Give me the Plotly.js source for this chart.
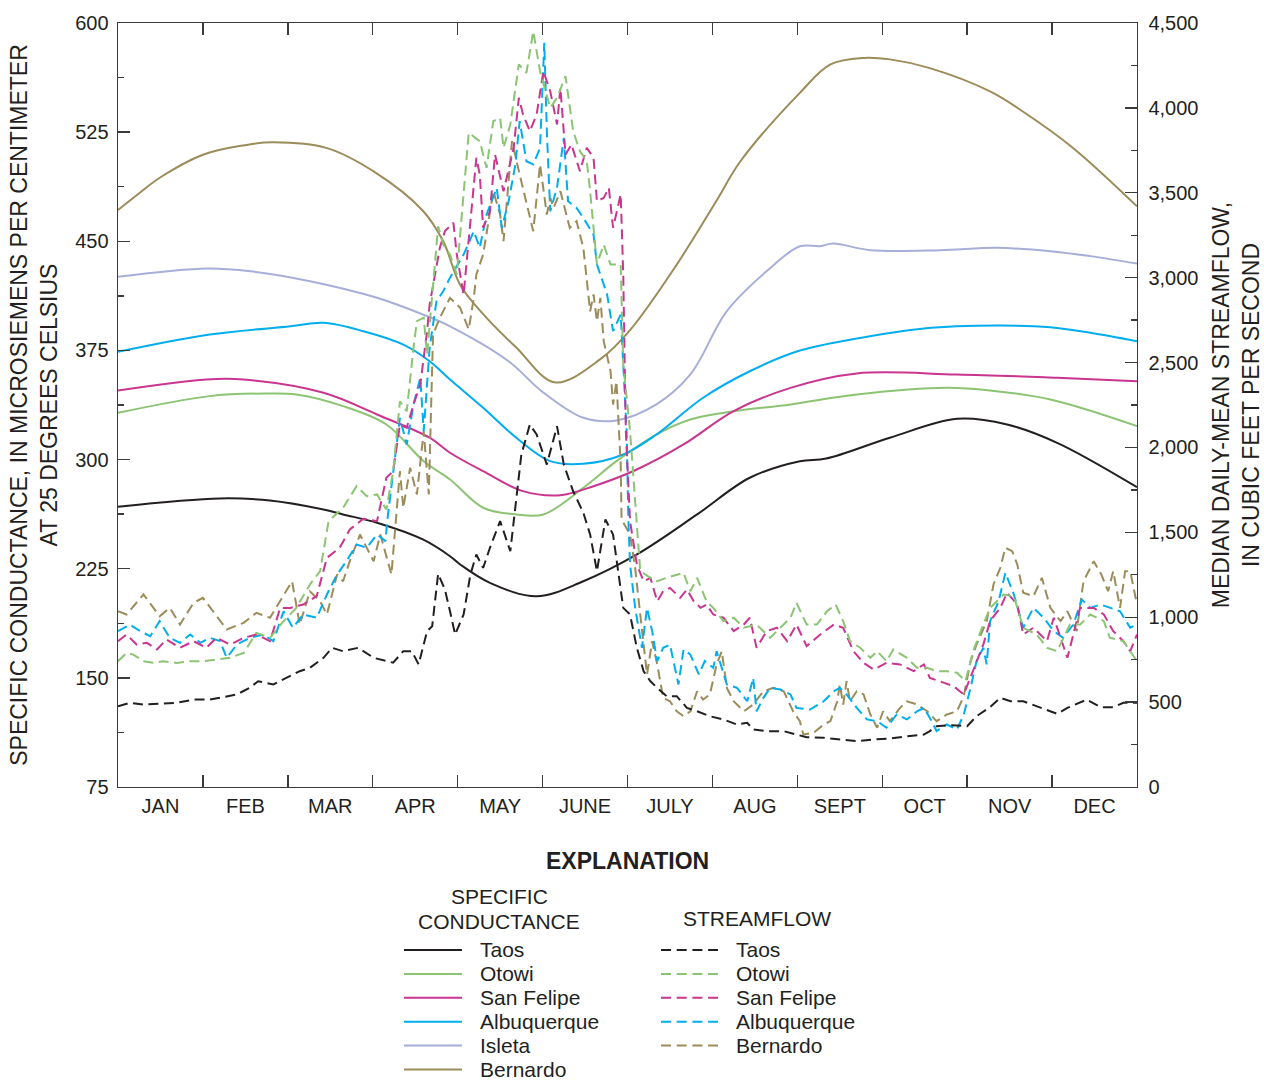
<!DOCTYPE html>
<html>
<head>
<meta charset="utf-8">
<script src="https://cdn.plot.ly/plotly-3.0.1.min.js"></script>
<style>
  html, body { margin: 0; padding: 0; background: #ffffff; }
  #chart { width: 1264px; height: 1081px; }
</style>
</head>
<body>
<div id="chart"></div>
<script>
// ---- Month labels (x axis runs 0..12, one unit per month) ----
const MONTH_LABELS = ['JAN', 'FEB', 'MAR', 'APR', 'MAY', 'JUNE', 'JULY', 'AUG', 'SEPT', 'OCT', 'NOV', 'DEC'];

// ---- Median specific conductance, microsiemens per centimeter (left axis) ----
const taosCondMonth = [0, 1.2, 1.79, 2.42, 2.65, 3.05, 3.59, 3.91, 4.03, 4.38, 4.93, 5.48, 6.11, 6.82, 7.44, 8.03, 8.34, 9.09, 9.88, 10.47, 11.06, 12];
const taosCond = [267.6, 273.3, 271.9, 265.7, 262.3, 256.6, 245.1, 233.6, 227.9, 215.3, 206.1, 216.4, 234.8, 262.3, 287.5, 298.9, 300.7, 315, 328, 324.1, 311.5, 281];

const otowiCondMonth = [0, 1.08, 1.75, 2.10, 2.65, 3.16, 3.60, 3.91, 4.30, 4.69, 5.01, 5.48, 5.87, 6.34, 6.74, 7.25, 7.92, 8.70, 9.76, 10.27, 10.98, 12];
const otowiCond = [332.1, 343.6, 345.4, 344.7, 336.7, 324.1, 298.9, 286.3, 266.9, 262.3, 262.3, 280.6, 298.9, 317.2, 327.5, 333.2, 337.9, 344.7, 349.3, 347.5, 341.3, 323];

const sanFelipeCondMonth = [0, 1.04, 1.48, 2.42, 3.05, 3.67, 3.91, 4.30, 4.77, 5.21, 5.60, 6.11, 6.66, 7.25, 7.92, 8.70, 9.88, 11.06, 12];
const sanFelipeCond = [347.5, 355, 355, 345.9, 331, 315, 304.7, 292, 278.3, 275.5, 281.7, 293.2, 310.4, 333.3, 349.3, 359.2, 358.5, 356.2, 353.9];

const albuquerqueCondMonth = [0, 1.08, 2.03, 2.42, 2.89, 3.36, 3.67, 3.91, 4.30, 4.69, 5.09, 5.48, 5.95, 6.34, 6.89, 7.44, 8.03, 8.70, 9.49, 10.35, 10.98, 11.45, 12];
const albuquerqueCond = [374, 385.9, 391.6, 394, 388.2, 379, 367.6, 355, 335.6, 315, 298.9, 297.1, 303.5, 317.2, 342.5, 360.7, 374.9, 383.2, 390.1, 392.1, 390.9, 387.1, 381.3];

const isletaCondMonth = [0, 1.05, 1.56, 2.26, 3.05, 3.59, 3.91, 4.60, 4.99, 5.48, 5.87, 6.34, 6.74, 7.17, 7.64, 8.03, 8.27, 8.42, 8.86, 9.68, 10.35, 10.98, 11.45, 12];
const isletaCond = [425.6, 431.3, 429.4, 422.6, 411.2, 399.7, 391.6, 367.6, 347, 328.7, 326.9, 337.9, 358.5, 402, 429.5, 446.6, 446.6, 448.5, 443.9, 443.9, 445.5, 443.2, 439.8, 434.7];

const bernardoCondMonth = [0, 0.25, 0.50, 1.00, 1.49, 1.83, 2.46, 3.01, 3.59, 3.83, 4.03, 4.30, 4.69, 5.15, 5.68, 6.03, 6.58, 7.05, 7.33, 8.03, 8.39, 8.78, 9.09, 9.56, 10.27, 10.66, 11.25, 12];
const bernardoCond = [471.5, 483, 494, 509.5, 516, 518, 514, 498, 471, 450, 420, 400, 377, 353, 369, 389, 434, 478, 505, 552, 571.5, 576, 575, 569, 553, 539, 514, 474];

// ---- Median daily-mean streamflow, cubic feet per second (right axis) ----
const taosFlowMonth = [0, 0.14, 0.30, 0.49, 0.69, 0.89, 1.08, 1.24, 1.40, 1.55, 1.65, 1.83, 2.03, 2.14, 2.26, 2.42, 2.52, 2.65, 2.83, 3.01, 3.24, 3.36, 3.46, 3.54, 3.64, 3.70, 3.77, 3.85, 3.91, 3.97, 4.07, 4.15, 4.22, 4.30, 4.38, 4.50, 4.62, 4.68, 4.75, 4.85, 4.93, 5.05, 5.17, 5.25, 5.36, 5.48, 5.56, 5.64, 5.74, 5.83, 5.95, 6.03, 6.11, 6.19, 6.27, 6.35, 6.46, 6.58, 6.70, 6.82, 6.97, 7.13, 7.29, 7.41, 7.48, 7.64, 7.84, 7.99, 8.11, 8.31, 8.50, 8.70, 8.90, 9.09, 9.29, 9.49, 9.56, 9.64, 9.80, 10.00, 10.11, 10.27, 10.39, 10.51, 10.66, 10.86, 11.06, 11.18, 11.33, 11.41, 11.57, 11.72, 11.84, 12.00];
const taosFlow = [476, 496, 486, 490, 496, 515, 515, 529, 545, 584, 623, 604, 653, 682, 702, 761, 820, 800, 820, 761, 732, 800, 800, 722, 918, 947, 1256, 1163, 1035, 898, 1016, 1252, 1369, 1291, 1409, 1566, 1389, 1650, 1958, 2135, 2076, 1899, 2125, 1899, 1742, 1615, 1487, 1271, 1576, 1487, 1055, 1016, 820, 682, 623, 584, 535, 535, 466, 446, 417, 398, 368, 378, 339, 329, 329, 309, 293, 290, 280, 270, 280, 286, 299, 309, 329, 358, 364, 358, 417, 470, 525, 505, 505, 470, 431, 466, 496, 515, 470, 470, 496, 496];

const otowiFlowMonth = [0, 0.10, 0.18, 0.30, 0.42, 0.53, 0.69, 0.85, 1.00, 1.16, 1.32, 1.48, 1.63, 1.79, 1.95, 2.10, 2.26, 2.38, 2.48, 2.65, 2.81, 2.93, 3.05, 3.16, 3.24, 3.32, 3.40, 3.48, 3.52, 3.60, 3.64, 3.77, 3.83, 3.91, 3.99, 4.13, 4.26, 4.30, 4.34, 4.42, 4.50, 4.54, 4.62, 4.72, 4.81, 4.89, 4.97, 5.09, 5.17, 5.27, 5.36, 5.44, 5.52, 5.56, 5.64, 5.72, 5.80, 5.92, 5.95, 6.03, 6.11, 6.15, 6.27, 6.35, 6.46, 6.58, 6.66, 6.74, 6.82, 6.93, 7.01, 7.13, 7.25, 7.37, 7.52, 7.68, 7.84, 7.92, 7.99, 8.11, 8.23, 8.35, 8.45, 8.54, 8.62, 8.74, 8.86, 8.94, 9.05, 9.13, 9.29, 9.41, 9.53, 9.64, 9.76, 9.88, 9.98, 10.07, 10.19, 10.27, 10.43, 10.55, 10.66, 10.82, 10.94, 11.06, 11.21, 11.33, 11.45, 11.61, 11.68, 11.84, 12.00];
const otowiFlow = [741, 790, 780, 741, 731, 741, 731, 741, 741, 751, 761, 790, 908, 879, 977, 1055, 1193, 1271, 1566, 1644, 1772, 1713, 1723, 1634, 1860, 2272, 2213, 2587, 2744, 2764, 2547, 3303, 3195, 3136, 3019, 3853, 3804, 3725, 3647, 3922, 3941, 3765, 3902, 4256, 4207, 4452, 4216, 4001, 4059, 4187, 3863, 3745, 3686, 3509, 3078, 3195, 3078, 3078, 2489, 2096, 1546, 1271, 1232, 1212, 1232, 1252, 1262, 1153, 1232, 1094, 1055, 977, 997, 938, 957, 879, 957, 997, 1085, 957, 957, 1035, 1075, 977, 859, 820, 761, 800, 741, 810, 761, 702, 702, 682, 682, 673, 623, 800, 957, 1055, 1134, 1124, 938, 898, 820, 800, 957, 957, 1016, 977, 879, 859, 741];

const sanFelipeFlowMonth = [0, 0.10, 0.22, 0.34, 0.46, 0.57, 0.73, 0.89, 1.04, 1.16, 1.32, 1.48, 1.63, 1.79, 1.91, 2.03, 2.18, 2.34, 2.46, 2.61, 2.73, 2.89, 3.05, 3.16, 3.24, 3.32, 3.40, 3.48, 3.56, 3.64, 3.67, 3.71, 3.79, 3.85, 3.95, 3.99, 4.07, 4.22, 4.26, 4.30, 4.38, 4.44, 4.54, 4.66, 4.72, 4.77, 4.85, 4.93, 5.01, 5.09, 5.17, 5.21, 5.27, 5.34, 5.44, 5.52, 5.60, 5.64, 5.72, 5.78, 5.83, 5.92, 5.95, 5.98, 6.03, 6.11, 6.19, 6.27, 6.35, 6.42, 6.50, 6.62, 6.70, 6.78, 6.86, 6.93, 7.01, 7.13, 7.25, 7.37, 7.44, 7.52, 7.64, 7.76, 7.88, 7.99, 8.11, 8.27, 8.43, 8.54, 8.66, 8.78, 8.90, 9.05, 9.21, 9.37, 9.49, 9.56, 9.68, 9.84, 9.96, 10.07, 10.19, 10.27, 10.39, 10.47, 10.59, 10.66, 10.78, 10.94, 11.02, 11.18, 11.33, 11.49, 11.61, 11.72, 11.84, 11.92, 12.00];
const sanFelipeFlow = [859, 898, 839, 849, 810, 869, 820, 859, 820, 879, 839, 879, 898, 859, 1055, 1055, 1075, 1124, 1350, 1409, 1517, 1580, 1566, 1821, 1860, 2135, 2116, 2253, 2371, 2685, 2842, 2960, 3176, 3274, 3323, 3136, 2900, 3706, 3608, 3294, 3391, 3725, 3509, 3765, 4059, 3961, 3863, 3961, 4216, 4098, 3902, 4118, 3725, 3784, 3627, 3765, 3706, 3450, 3470, 3529, 3294, 3490, 3019, 2100, 1566, 1311, 1212, 1232, 1094, 1153, 1173, 1114, 1163, 1094, 1055, 1075, 1016, 997, 918, 957, 997, 820, 918, 938, 859, 957, 829, 898, 957, 938, 800, 731, 692, 731, 722, 682, 722, 643, 623, 594, 545, 682, 839, 977, 1055, 1144, 1075, 898, 938, 859, 997, 761, 1055, 1055, 1016, 918, 859, 800, 898];

const albuquerqueFlowMonth = [0, 0.14, 0.26, 0.38, 0.49, 0.61, 0.73, 0.85, 0.97, 1.08, 1.20, 1.28, 1.40, 1.55, 1.71, 1.83, 1.95, 2.06, 2.18, 2.34, 2.46, 2.58, 2.69, 2.81, 2.93, 3.05, 3.15, 3.17, 3.32, 3.40, 3.48, 3.56, 3.60, 3.67, 3.75, 3.83, 3.91, 4.07, 4.19, 4.26, 4.34, 4.46, 4.52, 4.60, 4.68, 4.73, 4.81, 4.89, 4.97, 5.02, 5.05, 5.09, 5.17, 5.25, 5.30, 5.40, 5.48, 5.60, 5.64, 5.76, 5.83, 5.92, 5.95, 5.99, 6.01, 6.03, 6.09, 6.17, 6.23, 6.29, 6.35, 6.42, 6.50, 6.60, 6.66, 6.74, 6.84, 6.91, 7.01, 7.05, 7.17, 7.29, 7.41, 7.48, 7.52, 7.60, 7.68, 7.80, 7.92, 7.99, 8.15, 8.31, 8.43, 8.50, 8.58, 8.70, 8.82, 8.94, 9.05, 9.17, 9.29, 9.41, 9.49, 9.56, 9.64, 9.76, 9.88, 9.96, 10.04, 10.11, 10.19, 10.23, 10.27, 10.37, 10.45, 10.55, 10.66, 10.78, 10.90, 11.02, 11.13, 11.25, 11.35, 11.45, 11.57, 11.68, 11.80, 11.92, 12.00];
const albuquerqueFlow = [918, 957, 918, 888, 977, 879, 849, 898, 849, 879, 859, 761, 839, 879, 898, 859, 1035, 938, 1016, 997, 1134, 1252, 1330, 1428, 1409, 1487, 1448, 1566, 2174, 2017, 2253, 2410, 2096, 2587, 2861, 2920, 3000, 3136, 3274, 3176, 3372, 3529, 3294, 3450, 3667, 3922, 3686, 3667, 3765, 4383, 3863, 3391, 3529, 3824, 3450, 3411, 3352, 3254, 3078, 2901, 2685, 2783, 2489, 2096, 1575, 1311, 1055, 820, 1055, 918, 741, 820, 839, 604, 810, 780, 663, 741, 702, 800, 604, 584, 505, 643, 446, 525, 584, 574, 545, 466, 456, 505, 564, 584, 545, 466, 398, 388, 349, 427, 398, 446, 466, 408, 329, 368, 339, 427, 584, 741, 820, 722, 977, 1094, 1262, 1134, 938, 1055, 997, 918, 879, 957, 1104, 1055, 1075, 1055, 1035, 938, 957];

const bernardoFlowMonth = [0, 0.10, 0.30, 0.42, 0.49, 0.61, 0.73, 0.89, 1.00, 1.12, 1.28, 1.48, 1.63, 1.79, 1.95, 2.05, 2.14, 2.26, 2.38, 2.46, 2.58, 2.65, 2.73, 2.85, 3.01, 3.09, 3.22, 3.32, 3.36, 3.44, 3.52, 3.60, 3.66, 3.71, 3.79, 3.91, 3.99, 4.03, 4.13, 4.19, 4.22, 4.30, 4.42, 4.50, 4.54, 4.64, 4.73, 4.81, 4.89, 4.97, 5.05, 5.09, 5.13, 5.21, 5.32, 5.40, 5.48, 5.56, 5.60, 5.64, 5.68, 5.72, 5.80, 5.83, 5.87, 5.92, 5.93, 6.03, 6.09, 6.15, 6.19, 6.23, 6.29, 6.35, 6.42, 6.50, 6.58, 6.66, 6.74, 6.82, 6.89, 6.97, 7.05, 7.11, 7.17, 7.25, 7.37, 7.48, 7.60, 7.72, 7.84, 7.95, 8.03, 8.07, 8.19, 8.31, 8.39, 8.47, 8.50, 8.54, 8.58, 8.62, 8.70, 8.78, 8.86, 8.94, 9.01, 9.09, 9.21, 9.29, 9.41, 9.53, 9.64, 9.76, 9.88, 9.96, 10.04, 10.11, 10.23, 10.31, 10.39, 10.45, 10.53, 10.59, 10.66, 10.78, 10.88, 10.98, 11.10, 11.18, 11.29, 11.37, 11.49, 11.58, 11.66, 11.72, 11.80, 11.86, 11.92, 12.00];
const bernardoFlow = [1035, 1016, 1134, 1055, 1006, 1055, 957, 1085, 1114, 1035, 928, 967, 1026, 997, 1134, 1212, 957, 1153, 1094, 1016, 1252, 1212, 1330, 1487, 1330, 1487, 1252, 1860, 1644, 1880, 1723, 2096, 1723, 2665, 2764, 2881, 2842, 2822, 2695, 2881, 3019, 3136, 3509, 3372, 3215, 3804, 3608, 3450, 3274, 3667, 3372, 3470, 3411, 3509, 3294, 3333, 3176, 2802, 2901, 2744, 2881, 2626, 2449, 2253, 2390, 1899, 1575, 1487, 1291, 1016, 820, 663, 859, 722, 525, 505, 446, 417, 446, 564, 515, 545, 722, 800, 584, 505, 446, 486, 564, 584, 564, 446, 388, 309, 319, 368, 388, 505, 604, 486, 623, 505, 564, 545, 427, 349, 446, 388, 466, 505, 486, 446, 388, 427, 446, 535, 741, 839, 977, 1193, 1291, 1409, 1389, 1311, 1144, 1124, 1232, 1055, 977, 1035, 918, 1212, 1330, 1252, 1153, 1271, 1055, 1271, 1271, 1075];

// ---- Station styling ----
const STATION_COLORS = {
  'Taos': '#231f20',
  'Otowi': '#8cc474',
  'San Felipe': '#c9358f',
  'Albuquerque': '#00aeef',
  'Isleta': '#a7aed8',
  'Bernardo': '#9b8c5a'
};
const INK = '#231f20';
const AXIS_COLOR = '#3b3b3b';
const FONT = '"Liberation Sans", Arial, Helvetica, sans-serif';
const DASH = '10px,5.5px';

const conductanceSeries = [
  ['Taos', taosCondMonth, taosCond],
  ['Otowi', otowiCondMonth, otowiCond],
  ['San Felipe', sanFelipeCondMonth, sanFelipeCond],
  ['Albuquerque', albuquerqueCondMonth, albuquerqueCond],
  ['Isleta', isletaCondMonth, isletaCond],
  ['Bernardo', bernardoCondMonth, bernardoCond]
];
const streamflowSeries = [
  ['Taos', taosFlowMonth, taosFlow],
  ['Otowi', otowiFlowMonth, otowiFlow],
  ['San Felipe', sanFelipeFlowMonth, sanFelipeFlow],
  ['Albuquerque', albuquerqueFlowMonth, albuquerqueFlow],
  ['Bernardo', bernardoFlowMonth, bernardoFlow]
];

const traces = [];
conductanceSeries.forEach(([name, months, values]) => {
  traces.push({
    type: 'scatter', mode: 'lines', name: name + ' specific conductance',
    x: months, y: values, yaxis: 'y',
    line: { color: STATION_COLORS[name], width: 2, shape: 'spline', smoothing: 1 },
    hoverinfo: 'skip'
  });
});
// Streamflow drawn in reverse so Taos ends up on top of the others
streamflowSeries.slice().reverse().forEach(([name, months, values]) => {
  traces.push({
    type: 'scatter', mode: 'lines', name: name + ' streamflow',
    x: months, y: values, yaxis: 'y2',
    line: { color: STATION_COLORS[name], width: 2, dash: DASH },
    hoverinfo: 'skip'
  });
});

// ---- Plot frame in pixels; helpers place the explanation block below it ----
const FRAME = { left: 118, right: 1137, top: 23, bottom: 787 };
const toPaperX = px => (px - FRAME.left) / (FRAME.right - FRAME.left);
const toPaperY = py => (FRAME.bottom - py) / (FRAME.bottom - FRAME.top);

const shapes = [];
const annotations = [];
function label(text, x, y, opts) {
  annotations.push(Object.assign({
    xref: 'paper', yref: 'paper', x: toPaperX(x), y: toPaperY(y),
    text: text, showarrow: false, xanchor: 'center', yanchor: 'middle',
    borderpad: 0,
    font: { family: FONT, size: 21, color: INK }
  }, opts || {}));
}
function sample(x0, x1, y, color, dash) {
  shapes.push({
    type: 'line', xref: 'paper', yref: 'paper',
    x0: toPaperX(x0), x1: toPaperX(x1), y0: toPaperY(y), y1: toPaperY(y),
    line: { color: color, width: 2, dash: dash || 'solid' }
  });
}

label('<b>EXPLANATION</b>', 627, 861, { font: { family: FONT, size: 23, color: INK } });
label('SPECIFIC', 499, 896);
label('CONDUCTANCE', 499, 921);
label('STREAMFLOW', 757, 919);

const ROW0 = 950, ROW_STEP = 23.9;
conductanceSeries.forEach(([name], i) => {
  const y = ROW0 + i * ROW_STEP;
  sample(404, 462, y, STATION_COLORS[name]);
  label(name, 479, y, { xanchor: 'left' });
});
streamflowSeries.forEach(([name], i) => {
  const y = ROW0 + i * ROW_STEP;
  sample(661, 718, y, STATION_COLORS[name], '10px,5.7px');
  label(name, 735, y, { xanchor: 'left' });
});

const tickFont = { family: FONT, size: 20, color: INK };
const titleFont = { family: FONT, size: 23, color: INK };

const layout = {
  width: 1264, height: 1081,
  margin: { l: FRAME.left, r: 1264 - FRAME.right, t: FRAME.top, b: 1081 - FRAME.bottom, pad: 0 },
  paper_bgcolor: '#ffffff', plot_bgcolor: '#ffffff',
  font: { family: FONT, color: INK },
  showlegend: false,
  xaxis: {
    range: [0, 12], fixedrange: true,
    tickmode: 'array', tickvals: MONTH_LABELS.map((_, i) => i + 0.5), ticktext: MONTH_LABELS,
    ticks: '', tickfont: tickFont, ticklabelstandoff: 1,
    minor: { tickmode: 'array', tickvals: MONTH_LABELS.map((_, i) => i).slice(1),
             ticks: 'inside', ticklen: 12, tickwidth: 1.4, tickcolor: AXIS_COLOR, showgrid: false },
    showline: true, linecolor: AXIS_COLOR, linewidth: 1.4, mirror: 'ticks',
    showgrid: false, zeroline: false
  },
  yaxis: {
    range: [75, 600], fixedrange: true,
    tickmode: 'linear', tick0: 75, dtick: 75,
    ticks: 'inside', ticklen: 12, tickwidth: 1.4, tickcolor: AXIS_COLOR,
    minor: { tick0: 75, dtick: 37.5, ticks: 'inside', ticklen: 6, tickwidth: 1.4, tickcolor: AXIS_COLOR, showgrid: false },
    tickfont: tickFont, ticklabelstandoff: 4,
    showline: true, linecolor: AXIS_COLOR, linewidth: 1.4,
    showgrid: false, zeroline: false,
    title: { text: 'SPECIFIC CONDUCTANCE, IN MICROSIEMENS PER CENTIMETER<br>AT 25 DEGREES CELSIUS', font: titleFont, standoff: 11 }
  },
  yaxis2: {
    overlaying: 'y', side: 'right', anchor: 'x',
    range: [0, 4500], fixedrange: true,
    tickmode: 'linear', tick0: 0, dtick: 500, tickformat: ',d',
    ticks: 'inside', ticklen: 12, tickwidth: 1.4, tickcolor: AXIS_COLOR,
    minor: { tick0: 0, dtick: 250, ticks: 'inside', ticklen: 6, tickwidth: 1.4, tickcolor: AXIS_COLOR, showgrid: false },
    tickfont: tickFont, ticklabelstandoff: 6,
    showline: true, linecolor: AXIS_COLOR, linewidth: 1.4,
    showgrid: false, zeroline: false,
    title: { text: 'MEDIAN DAILY-MEAN STREAMFLOW,<br>IN CUBIC FEET PER SECOND', font: titleFont, standoff: 19 }
  },
  shapes: shapes,
  annotations: annotations
};

Plotly.newPlot('chart', traces, layout, { staticPlot: true, displayModeBar: false });
</script>
</body>
</html>
